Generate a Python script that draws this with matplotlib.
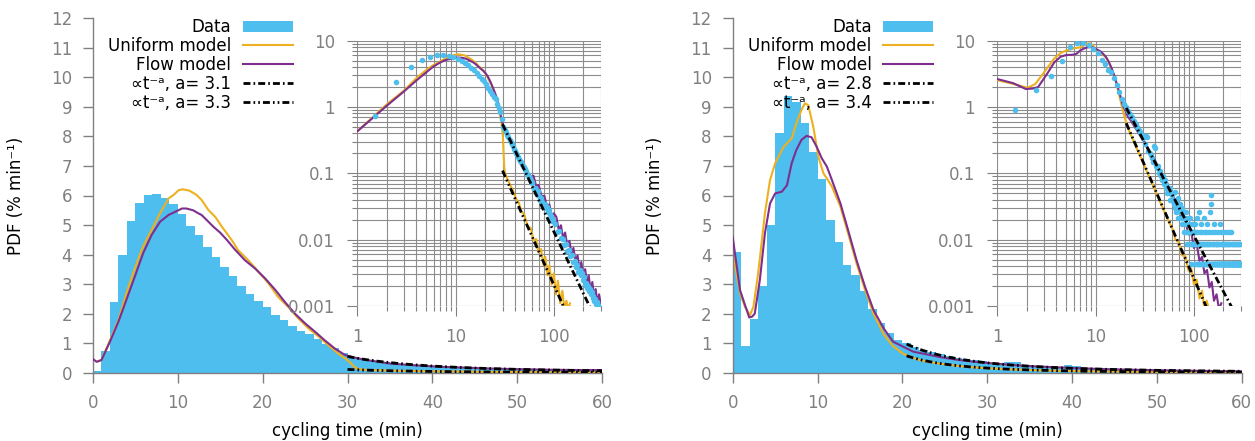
import numpy as np
import matplotlib.pyplot as plt
from matplotlib.patches import Patch
from matplotlib.lines import Line2D
from matplotlib.ticker import FuncFormatter, NullFormatter, LogLocator, MultipleLocator

BLUE = '#4DBEEE'
ORANGE = '#EDB120'
PURPLE = '#7E2F8E'
GREY = '#808080'
DASH1 = (2.5, 1.1, 0.6, 1.1)
DASH2 = (2.5, 1.1, 0.6, 1.1, 0.6, 1.1)

# ---- left data set: histogram, 1-min bins 0..60 (% per min)
left_hist = [0.07, 0.73, 2.38, 3.97, 5.15, 5.74, 6.03, 6.06, 5.93, 5.70,
             5.36, 4.97, 4.65, 4.27, 3.93, 3.58, 3.26, 2.95, 2.67, 2.43,
             2.22, 1.96, 1.77, 1.59, 1.42, 1.31, 1.13, 0.98, 0.84, 0.66,
             0.50, 0.455, 0.416, 0.38, 0.35, 0.322, 0.297, 0.275, 0.254, 0.236,
             0.22, 0.204, 0.19, 0.178, 0.167, 0.156, 0.147, 0.138, 0.13, 0.123,
             0.116, 0.109, 0.103, 0.098, 0.093, 0.088, 0.084, 0.08, 0.076, 0.072]
# tail of the left histogram beyond 60 min (bin centres)
left_tail_t = [60.5, 62.5, 64.5, 66.5, 68.5, 70.5, 72.5, 74.5, 76.5, 78.5,
               80.5, 82.5, 84.5, 86.5, 88.5, 90.5, 92.5, 94.5, 96.5, 98.5,
               102.5, 107.5, 112.5, 117.5, 122.5, 127.5, 132.5, 137.5, 142.5, 147.5,
               152.5, 157.5, 162.5, 167.5, 172.5, 177.5, 182.5, 187.5, 192.5, 197.5,
               202.5, 207.5, 212.5, 217.5, 222.5, 227.5, 232.5, 237.5, 242.5, 247.5,
               252.5, 257.5, 262.5, 267.5, 272.5, 277.5, 282.5, 287.5, 292.5, 297.5]
left_tail_pdf = [0.074, 0.059, 0.061, 0.051, 0.055, 0.045, 0.040, 0.043, 0.037, 0.032,
                 0.035, 0.030, 0.031, 0.026, 0.028, 0.024, 0.021, 0.022, 0.019, 0.020,
                 0.017, 0.013, 0.0134, 0.0105, 0.0104, 0.0084, 0.0085, 0.0068, 0.0069, 0.0056,
                 0.0059, 0.0046, 0.0048, 0.0039, 0.0041, 0.0033, 0.0035, 0.0029, 0.0031, 0.0025,
                 0.0027, 0.0021, 0.0022, 0.0019, 0.0020, 0.0017, 0.0018, 0.0015, 0.0016, 0.0013,
                 0.00142, 0.0012, 0.00128, 0.00108, 0.00114, 0.00098, 0.00104, 0.00091, 0.00094, 0.00082]

left_uni_t = [0.6, 1.0, 2.0, 3.0, 4.0, 5.0, 5.9, 6.9, 7.9, 8.9, 9.5, 10.1, 10.6, 11.4, 12.2,
              12.8, 13.6, 14.4, 15.2, 16.0, 16.5, 17.1, 18.3, 19.5, 20.7, 21.8, 23.0, 24.2,
              25.4, 26.6, 27.7, 28.9, 29.8, 30.3, 30.8, 31.3,
              32, 34, 36, 38, 41, 44, 47, 50, 54, 58, 62, 66, 70, 74, 78, 82, 86, 90,
              95, 100, 105, 110, 116, 122, 128, 134, 140, 146]
left_uni_v = [0.38, 0.43, 1.10, 1.78, 2.74, 3.59, 4.27, 4.83, 5.40, 5.90, 6.02, 6.18, 6.21, 6.16, 6.02,
              5.85, 5.51, 5.28, 4.94, 4.63, 4.43, 4.15, 3.81, 3.42, 3.02, 2.57, 2.23, 1.84,
              1.50, 1.22, 0.94, 0.65, 0.47, 0.35, 0.20, 0.12,
              0.098, 0.080, 0.066, 0.057, 0.042, 0.036, 0.026, 0.024, 0.016, 0.015, 0.0098, 0.0102,
              0.0064, 0.0072, 0.0042, 0.0055, 0.0029, 0.0041, 0.0021, 0.0031, 0.0015, 0.0024,
              0.0011, 0.0017, 0.0009, 0.0012, 0.0009, 0.0011]

left_flow_t = [0.0, 0.43, 1.0, 2.0, 3.0, 4.0, 5.0, 5.9, 6.9, 7.9, 8.9, 9.7, 10.5, 11.0, 11.8,
               12.4, 12.8, 13.4, 14.2, 15.0, 15.8, 16.7, 17.9, 19.1, 20.3, 21.5, 22.6, 23.8,
               25.0, 26.2, 27.3, 28.5, 29.7, 30.7,
               32, 35, 38, 41, 44, 47, 50, 54, 58, 62, 66, 70, 75, 80, 85, 90, 95, 100,
               106, 112, 118, 124, 130, 137, 144, 151, 158, 166, 174, 182, 190, 199, 208,
               217, 226, 236, 246, 256, 266, 277, 288, 299]
left_flow_v = [0.46, 0.37, 0.43, 1.05, 1.73, 2.52, 3.31, 4.04, 4.66, 5.11, 5.34, 5.45, 5.56, 5.56, 5.50,
               5.40, 5.34, 5.17, 4.94, 4.74, 4.49, 4.18, 3.81, 3.53, 3.19, 2.80, 2.40, 2.00,
               1.67, 1.38, 1.10, 0.82, 0.60, 0.52,
               0.44, 0.31, 0.25, 0.20, 0.17, 0.14, 0.12, 0.10, 0.088, 0.092, 0.064, 0.067, 0.045,
               0.046, 0.031, 0.034, 0.023, 0.025,
               0.022, 0.014, 0.0165, 0.0105, 0.0128, 0.0081, 0.0096, 0.0061, 0.0075,
               0.0047, 0.0058, 0.0036, 0.0046, 0.0028, 0.0036, 0.0022, 0.0029, 0.0017,
               0.0023, 0.0014, 0.0018, 0.0011, 0.0015, 0.0011]

# power-law fits: start time, value at start, exponent a
left_fit_t0 = [30.0, 30.0]
left_fit_amp = [0.55, 0.11]
left_fit_a = [3.1, 3.3]

# ---- right data set
right_hist = [4.10, 0.90, 1.81, 2.93, 4.99, 8.10, 9.38, 9.18, 8.47, 7.48,
              6.55, 5.17, 4.41, 3.65, 3.32, 2.77, 2.16, 1.69, 1.33, 1.11,
              0.99, 0.88, 0.78, 0.70, 0.62, 0.55, 0.50, 0.45, 0.42, 0.38,
              0.34, 0.28, 0.37, 0.35, 0.22, 0.20, 0.19, 0.17, 0.15, 0.26,
              0.24, 0.13, 0.12, 0.13, 0.10, 0.11, 0.09, 0.08, 0.09, 0.07,
              0.08, 0.06, 0.07, 0.05, 0.06, 0.05, 0.06, 0.04, 0.05, 0.04]
# event counts per 1-min bin from 60 to 300 min, one count = right_unit
right_unit = 0.0043
right_tail_counts = [11, 9, 8, 12, 7, 9, 6, 8, 10, 5, 7, 6, 8, 5, 6, 4, 7, 5, 3, 6,
                     4, 5, 3, 6, 2, 4, 5, 3, 2, 4, 3, 5, 2, 3, 1, 4, 2, 3, 2, 3,
                     2, 3, 1, 4, 2, 2, 1, 3, 5, 1, 2, 2, 6, 1, 3, 2, 1, 2, 4, 1,
                     2, 3, 1, 2, 1, 5, 2, 1, 3, 2,
                     1, 2, 1, 3, 1, 2, 4, 1, 1, 2, 1, 3, 1, 2, 1, 1, 6, 2, 8, 11,
                     1, 2, 1, 3, 1, 1, 2, 1, 4, 1, 1, 2, 1, 1, 3, 1, 2, 1, 1, 2,
                     1, 1, 2, 1, 3, 1, 1, 2, 1, 1, 1, 2, 1, 4, 1, 1, 2, 1, 1, 3,
                     1, 1, 2, 1, 1, 1, 2, 1, 1, 3, 1, 1, 2, 1, 1, 1, 2, 1, 1, 1,
                     2, 1, 1, 1, 3, 1, 1, 2, 1, 1, 1, 1, 2, 1, 1, 3, 1, 1, 1, 2,
                     1, 1, 1, 1, 2, 1, 1, 1, 3, 1, 1, 1, 1, 2, 1, 1, 1, 1, 2, 1,
                     1, 1, 1, 2, 1, 1, 1, 1, 1, 2, 1, 1, 1, 1, 1, 2, 1, 1, 1, 1,
                     1, 1, 2, 1, 1, 1, 1, 1, 1, 2, 1, 1, 1, 1, 1, 1, 1, 2, 1, 1,
                     1, 1, 1, 1, 1, 1, 2, 1, 1, 1]

right_uni_t = [0.0, 0.86, 1.45, 2.04, 2.44, 3.0, 3.8, 4.4, 5.0, 6.0, 6.95, 7.5, 8.1, 8.5, 8.9,
               9.5, 10.1, 10.7, 11.1, 11.7, 12.7, 13.6, 14.6, 15.6, 16.6, 17.8, 18.9, 20.1,
               21.3, 22, 24, 26, 28, 30, 33, 36, 39, 42, 46, 50, 55, 60, 65, 70, 76, 82,
               88, 94, 100, 107, 114, 121, 128, 135, 142]
right_uni_v = [4.1, 2.69, 2.23, 1.95, 2.23, 3.36, 5.4, 6.52, 7.09, 7.65, 7.93, 8.44, 8.89, 9.12, 9.06,
               8.33, 7.31, 6.75, 6.58, 6.3, 5.62, 4.72, 3.7, 2.8, 2.0, 1.3, 0.9, 0.64,
               0.5, 0.433, 0.322, 0.245, 0.19, 0.151, 0.109, 0.081, 0.062, 0.048, 0.0353,
               0.0266, 0.0192, 0.0150, 0.0100, 0.0092, 0.0058, 0.0056, 0.0034, 0.0037,
               0.0021, 0.0025, 0.0013, 0.0017, 0.0009, 0.0012, 0.0009]

right_flow_t = [0.0, 0.86, 1.45, 1.95, 2.3, 2.6, 3.2, 3.8, 4.4, 5.0, 5.8, 6.4, 6.95, 7.5, 8.1,
                8.7, 9.3, 9.9, 10.5, 11.1, 11.7, 12.7, 13.6, 14.6, 15.6, 16.6, 17.8, 18.9,
                20.1, 21.3, 22.9, 24.4, 26.4, 28.4, 31.3, 33, 36, 40, 44, 48, 52, 56, 60,
                65, 70, 76, 82, 88, 94, 100, 107, 114, 121, 128, 136, 144, 152, 160, 170,
                180, 190]
right_flow_v = [4.6, 2.8, 2.29, 1.87, 1.90, 2.0, 3.14, 4.72, 5.73, 6.07, 6.13, 6.35, 7.09, 7.54, 7.88,
                8.02, 7.97, 7.65, 7.26, 6.98, 6.52, 5.73, 4.83, 3.81, 2.91, 2.12, 1.5, 1.05,
                0.88, 0.71, 0.62, 0.53, 0.44, 0.37, 0.30, 0.26, 0.21, 0.16, 0.12, 0.095,
                0.075, 0.06, 0.048, 0.038, 0.030, 0.021, 0.019, 0.012, 0.013, 0.0075, 0.0085,
                0.0048, 0.0055, 0.0031, 0.0035, 0.0019, 0.0023, 0.0012, 0.0015, 0.0009, 0.0011]

right_fit_t0 = [20.5, 20.5]
right_fit_amp = [0.97, 0.57]
right_fit_a = [2.8, 3.4]


def style_main(ax):
    for side in ['top', 'right']:
        ax.spines[side].set_visible(False)
    for side in ['left', 'bottom']:
        ax.spines[side].set_color(GREY)
        ax.spines[side].set_linewidth(1)
    ax.set_xlim(0, 60)
    ax.set_ylim(0, 12)
    ax.xaxis.set_major_locator(MultipleLocator(10))
    ax.yaxis.set_major_locator(MultipleLocator(1))
    ax.tick_params(direction='out', length=7, width=1, color=GREY,
                   labelcolor=GREY, labelsize=12, pad=8)
    ax.set_xlabel('cycling time (min)', fontsize=12)
    ax.set_ylabel('PDF (% min⁻¹)', fontsize=12)
    ax.xaxis.set_label_coords(0.5, -0.14)
    ax.yaxis.set_label_coords(-0.134, 0.5)


def fit_lines(t0s, amps, exps, tmax):
    out = []
    for t0, amp, a in zip(t0s, amps, exps):
        t = np.geomspace(t0, tmax, 200)
        out.append((t, amp * (t / t0) ** (-a)))
    return out


def panel(ax, ins, hist, tail_t, tail_v, uni_t, uni_v, flow_t, flow_v,
          fit_t0, fit_amp, fit_a, legend_x):
    hist = np.array(hist)
    bins = np.arange(len(hist))
    ax.bar(bins, hist, width=1, align='edge', color=BLUE, linewidth=0, zorder=1)
    ax.plot(uni_t, uni_v, color=ORANGE, lw=1.5, zorder=2)
    ax.plot(flow_t, flow_v, color=PURPLE, lw=1.5, zorder=3)
    for (t, y), d in zip(fit_lines(fit_t0, fit_amp, fit_a, 60), [DASH1, DASH2]):
        ax.plot(t, y, color='k', lw=2, dashes=d, zorder=4)
    style_main(ax)

    handles = [Patch(facecolor=BLUE, edgecolor='none'),
               Line2D([], [], color=ORANGE, lw=1.5),
               Line2D([], [], color=PURPLE, lw=1.5),
               Line2D([], [], color='k', lw=2, dashes=DASH1),
               Line2D([], [], color='k', lw=2, dashes=DASH2)]
    labels = ['Data', 'Uniform model', 'Flow model',
              '∝t⁻ᵃ, a= %g' % fit_a[0], '∝t⁻ᵃ, a= %g' % fit_a[1]]
    ax.legend(handles, labels, loc='upper right', bbox_to_anchor=(legend_x, 1.0),
              frameon=False, markerfirst=False, fontsize=12, handlelength=3,
              handletextpad=0.7, labelspacing=0.05, borderpad=0, borderaxespad=0)

    # log-log inset
    pts_t = np.concatenate([bins + 0.5, tail_t])
    pts_v = np.concatenate([hist, tail_v])
    keep = pts_v > 0
    ins.plot(uni_t, uni_v, color=ORANGE, lw=1.5, zorder=2)
    ins.plot(flow_t, flow_v, color=PURPLE, lw=1.5, zorder=3)
    ins.plot(pts_t[keep], pts_v[keep], 'o', color=BLUE, ms=4, mew=0, zorder=4)
    for (t, y), d in zip(fit_lines(fit_t0, fit_amp, fit_a, 300), [DASH1, DASH2]):
        ins.plot(t, y, color='k', lw=2, dashes=d, zorder=5)
    ins.set_xscale('log')
    ins.set_yscale('log')
    ins.set_xlim(1, 300)
    ins.set_ylim(1e-3, 10)
    ins.set_facecolor('none')
    for s in ins.spines.values():
        s.set_visible(False)
    ins.xaxis.set_major_locator(LogLocator(10))
    ins.yaxis.set_major_locator(LogLocator(10))
    ins.xaxis.set_minor_locator(LogLocator(10, subs=np.arange(2, 10)))
    ins.yaxis.set_minor_locator(LogLocator(10, subs=np.arange(2, 10)))
    fmt = FuncFormatter(lambda v, _: '%g' % v)
    ins.xaxis.set_major_formatter(fmt)
    ins.yaxis.set_major_formatter(fmt)
    ins.xaxis.set_minor_formatter(NullFormatter())
    ins.yaxis.set_minor_formatter(NullFormatter())
    ins.grid(True, which='both', color='#8c8c8c', lw=0.8, zorder=0)
    ins.tick_params(which='major', direction='out', length=7, width=0.8,
                    color=GREY, labelcolor=GREY, labelsize=12, pad=9)
    ins.tick_params(which='minor', direction='out', length=3.5, width=0.8, color=GREY)


fig = plt.figure(figsize=(12.55, 4.41), dpi=100)
W, H = 1255.0, 441.0
axL = fig.add_axes([93 / W, (H - 372.7) / H, 509 / W, 354.4 / H])
axR = fig.add_axes([732.7 / W, (H - 372.7) / H, 509 / W, 354.4 / H])
insL = fig.add_axes([357.3 / W, (H - 306) / H, 243.5 / W, 265.3 / H])
insR = fig.add_axes([997.3 / W, (H - 306) / H, 243.5 / W, 265.3 / H])

panel(axL, insL, left_hist, left_tail_t, left_tail_pdf, left_uni_t, left_uni_v,
      left_flow_t, left_flow_v, left_fit_t0, left_fit_amp, left_fit_a, 0.393)

right_tail_t = np.arange(len(right_tail_counts)) + 60.5
right_tail_pdf = np.array(right_tail_counts) * right_unit
panel(axR, insR, right_hist, right_tail_t, right_tail_pdf, right_uni_t, right_uni_v,
      right_flow_t, right_flow_v, right_fit_t0, right_fit_amp, right_fit_a, 0.394)

fig.savefig('out.png', dpi=100)
